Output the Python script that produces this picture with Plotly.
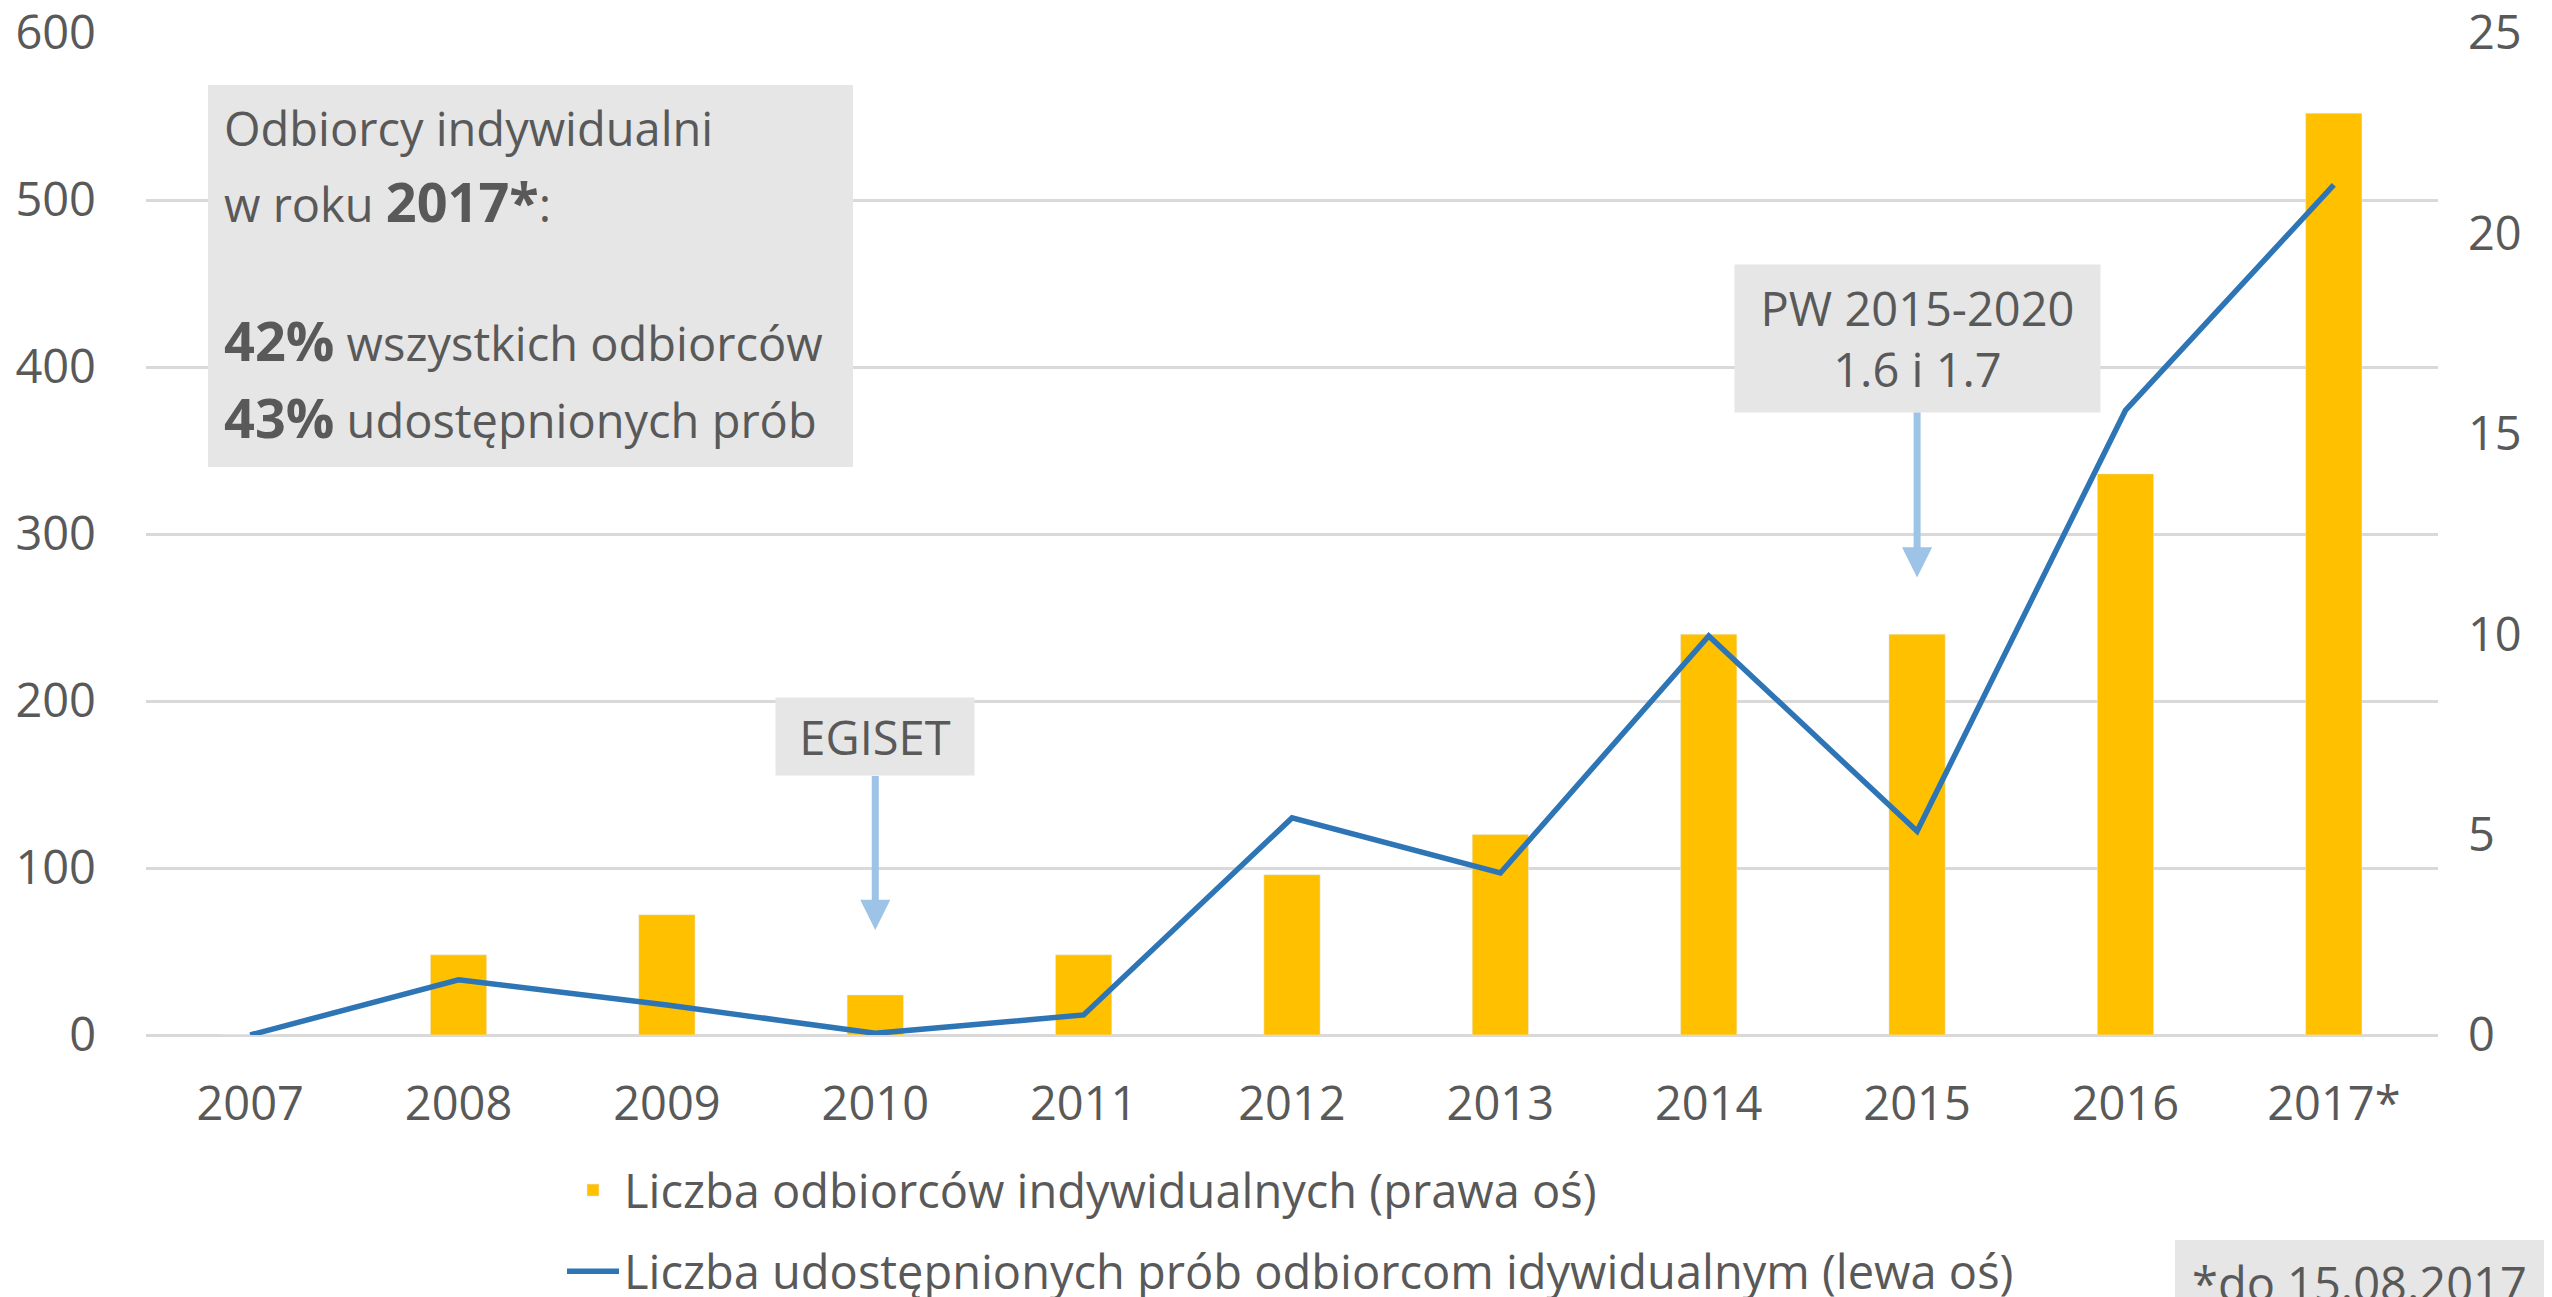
import plotly.graph_objects as go

# dane
lata = ["2007", "2008", "2009", "2010", "2011", "2012", "2013", "2014", "2015", "2016", "2017*"]
odbiorcy = [0, 2, 3, 1, 2, 4, 5, 10, 10, 14, 23]          # prawa oś
proby = [0, 33, 18, 1, 12, 130, 97, 239, 122, 374, 509]   # lewa oś

W, H = 2552, 1297
OFF = 8  # domyślny margines <body> przesuwa wykres o 8 px
# obszar wykresu w pikselach obrazka wzorcowego
X0, X1, Y0, Y1 = 146, 2438, 33, 1035
L, R, T, B = X0 - OFF, W - (X1 - OFF), Y0 - OFF, H - (Y1 - OFF)
PW = X1 - X0
PH = Y1 - Y0


def px(x):
    return (x - X0) / PW


def py(y):
    return (Y1 - y) / PH


FONT = "'Open Sans', Lato, sans-serif"
GREY = "#595959"
BOX = "#E6E6E6"
ARROW = "#9DC3E6"
FS = 47

fig = go.Figure()

fig.add_trace(go.Bar(
    x=lata, y=odbiorcy,
    name="Liczba odbiorców indywidualnych (prawa oś)",
    marker_color="#FFC000",
    yaxis="y",
    legendgroup="a",
))

fig.add_trace(go.Scatter(
    x=lata, y=proby,
    mode="lines",
    name="Liczba udostępnionych prób odbiorcom idywidualnym (lewa oś)",
    line=dict(color="#2E75B6", width=5.5),
    yaxis="y2",
    legendgroup="b",
))

font = dict(family=FONT, size=FS, color=GREY)
big = '<span style="font-size:54px"><b>%s</b></span>'

annotations = []
# info box, lewy górny róg
for txt, yy in [
    ("Odbiorcy indywidualni", 128),
    ("w roku " + big % "2017*" + ":", 201),
    (big % "42%" + " wszystkich odbiorców", 340),
    (big % "43%" + " udostępnionych prób", 417),
]:
    annotations.append(dict(
        text=txt, xref="paper", yref="paper", x=px(222), y=py(yy),
        xanchor="left", yanchor="middle", showarrow=False, font=font,
    ))

# strzałki z etykietami (x jako indeks kategorii)
annotations.append(dict(
    text="EGISET", xref="x", yref="y2", x=lata.index("2010"), y=62.9,
    showarrow=True, arrowhead=2, arrowwidth=7, arrowsize=0.86, arrowcolor=ARROW,
    ax=0, ay=-193, bgcolor=BOX, width=198, height=77, borderpad=0,
    borderwidth=1, bordercolor="rgba(0,0,0,0)", font=font,
))
annotations.append(dict(
    text="PW 2015-2020<br>1.6 i 1.7", xref="x", yref="y2", x=lata.index("2015"), y=274,
    showarrow=True, arrowhead=2, arrowwidth=7, arrowsize=0.86, arrowcolor=ARROW,
    ax=0, ay=-239, bgcolor=BOX, width=365, height=147, borderpad=0,
    borderwidth=1, bordercolor="rgba(0,0,0,0)", font=font,
))

# przypis
annotations.append(dict(
    text="*do 15.08.2017", xref="paper", yref="paper", x=px(2190), y=py(1283),
    xanchor="left", yanchor="middle", align="left", showarrow=False, font=font,
))

shapes = [
    dict(type="rect", xref="paper", yref="paper",
         x0=px(208), x1=px(853), y0=py(467), y1=py(85),
         fillcolor=BOX, line=dict(width=0), layer="above"),
    dict(type="rect", xref="paper", yref="paper",
         x0=px(2175), x1=px(2570), y0=py(1320), y1=py(1240),
         fillcolor=BOX, line=dict(width=0), layer="above"),
]

fig.update_layout(
    width=W, height=H,
    margin=dict(l=L, r=R, t=T, b=B, autoexpand=False),
    paper_bgcolor="white", plot_bgcolor="white",
    font=font,
    bargap=0.73,
    showlegend=True,
    legend=dict(
        x=px(562), y=py(1153), xanchor="left", yanchor="top",
        orientation="v", traceorder="grouped", tracegroupgap=17,
        itemwidth=52, font=font, bgcolor="rgba(0,0,0,0)",
    ),
    xaxis=dict(
        type="category", range=[-0.5, len(lata) - 0.5], automargin=False,
        showgrid=False, showline=False, ticks="", tickangle=0,
        tickfont=font, ticklabelstandoff=37,
    ),
    yaxis=dict(
        side="right", range=[0, 25], dtick=5, showgrid=False, zeroline=False,
        automargin=False, showline=False, tickfont=font, ticklabelstandoff=29,
        ticklabeloverflow="allow",
    ),
    yaxis2=dict(
        overlaying="y", side="left", range=[0, 600], dtick=100,
        showgrid=True, gridcolor="#D9D9D9", gridwidth=2.5,
        zeroline=True, zerolinecolor="#D9D9D9", zerolinewidth=2.5,
        automargin=False, showline=False, tickfont=font, ticklabelstandoff=49,
        ticklabeloverflow="allow",
    ),
    annotations=annotations,
    shapes=shapes,
)

fig.write_html("out.html")
